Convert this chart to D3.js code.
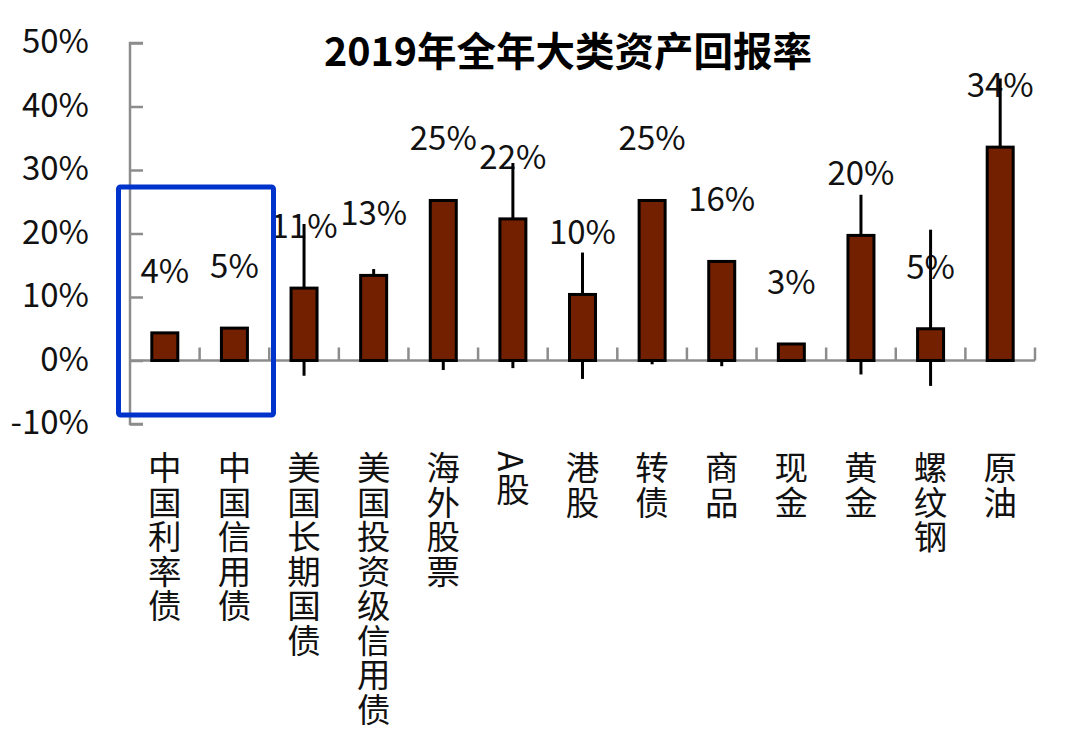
<!DOCTYPE html>
<html><head><meta charset="utf-8">
<script src="https://cdn.jsdelivr.net/npm/d3@7"></script>
<style>
html,body{margin:0;padding:0;background:#fff;}
svg{display:block;}
text{font-family:"Noto Sans CJK SC","Noto Sans",sans-serif;}
</style></head>
<body><svg id="c" width="1080" height="741"></svg>
<script>
const title = "2019年全年大类资产回报率";
const categories = ["中国利率债","中国信用债","美国长期国债","美国投资级信用债","海外股票","A股","港股","转债","商品","现金","黄金","螺纹钢","原油"];
const values = [4.35, 5.1, 11.4, 13.4, 25.2, 22.3, 10.4, 25.2, 15.6, 2.6, 19.7, 5.0, 33.6];
const highs = [null, null, 21.5, 14.4, 25.4, 31.1, 17.0, null, null, null, 26.1, 20.6, 44.4];
const lows  = [null, null, -2.4, null, -1.5, -1.2, -2.9, -0.6, -0.9, null, -2.2, -4.0, null];
const yTicks = [-10, 0, 10, 20, 30, 40, 50];

const svg = d3.select("#c");
const y = d3.scaleLinear().domain([-10, 50]).range([424, 43]);
const x = d3.scaleBand().domain(categories).range([130, 1035]).padding(0);
const axisColor = "#8c8c8c";

// title
svg.append("text").attr("x", 568).attr("y", 66).attr("text-anchor", "middle")
  .attr("font-size", 39.5).attr("font-weight", "bold").attr("fill", "#000").text(title);

// y axis
const yAxis = d3.axisRight(y).tickValues(yTicks).tickSize(13).tickFormat(d => d + "%");
const yg = svg.append("g").attr("transform", "translate(130,0)").call(yAxis);
yg.select(".domain").attr("stroke", axisColor).attr("stroke-width", 2.5).attr("d", `M13,${y(50)}H0V${y(-10)}H13`);
yg.selectAll(".tick line").attr("stroke", axisColor).attr("stroke-width", 2.5);
yg.selectAll(".tick text").attr("x", -41).attr("text-anchor", "end").attr("dy", "0.3em")
  .attr("font-size", 33).attr("fill", "#111").style("font-family", '"Noto Sans CJK SC"');

// x axis line at 0 with upward ticks at category boundaries
const xg = svg.append("g");
xg.append("line").attr("x1", 130).attr("x2", 1035).attr("y1", y(0)).attr("y2", y(0))
  .attr("stroke", axisColor).attr("stroke-width", 2.5);
const bounds = categories.map(c => x(c) + x.bandwidth());
xg.selectAll("line.t").data(bounds).join("line").attr("class", "t")
  .attr("x1", d => d).attr("x2", d => d).attr("y1", y(0)).attr("y2", y(0) - 13)
  .attr("stroke", axisColor).attr("stroke-width", 2.5);

const cx = c => x(c) + x.bandwidth() / 2;
const data = categories.map((c, i) => ({c, v: values[i], hi: highs[i], lo: lows[i]}));

// labels
svg.selectAll("text.lab").data(data).join("text").attr("class", "lab")
  .attr("x", d => cx(d.c)).attr("y", d => y(d.v) - 62).attr("dy", "0.36em")
  .attr("text-anchor", "middle").attr("font-size", 33).attr("fill", "#111")
  .text(d => Math.round(d.v) + "%");

// whiskers
svg.selectAll("line.w").data(data.filter(d => d.hi !== null || d.lo !== null)).join("line").attr("class", "w")
  .attr("x1", d => cx(d.c)).attr("x2", d => cx(d.c))
  .attr("y1", d => y(d.lo !== null ? d.lo : 0)).attr("y2", d => y(d.hi !== null ? d.hi : d.v))
  .attr("stroke", "#000").attr("stroke-width", 3);

// bars
svg.selectAll("rect.bar").data(data).join("rect").attr("class", "bar")
  .attr("x", d => cx(d.c) - 13).attr("width", 26)
  .attr("y", d => y(Math.max(0, d.v))).attr("height", d => Math.abs(y(d.v) - y(0)))
  .attr("fill", "#722000").attr("stroke", "#000").attr("stroke-width", 3);

// category labels (vertical)
svg.selectAll("text.cat").data(categories).join("text").attr("class", "cat")
  .attr("x", d => cx(d)).attr("y", 451)
  .attr("font-size", 33.5).attr("fill", "#111").attr("letter-spacing", 1)
  .style("writing-mode", "vertical-rl").style("text-orientation", "mixed")
  .text(d => d);

// highlight box
svg.append("rect").attr("x", 118.5).attr("y", 187).attr("width", 155).attr("height", 228).attr("rx", 2)
  .attr("fill", "none").attr("stroke", "#0033cc").attr("stroke-width", 5);
</script></body></html>
